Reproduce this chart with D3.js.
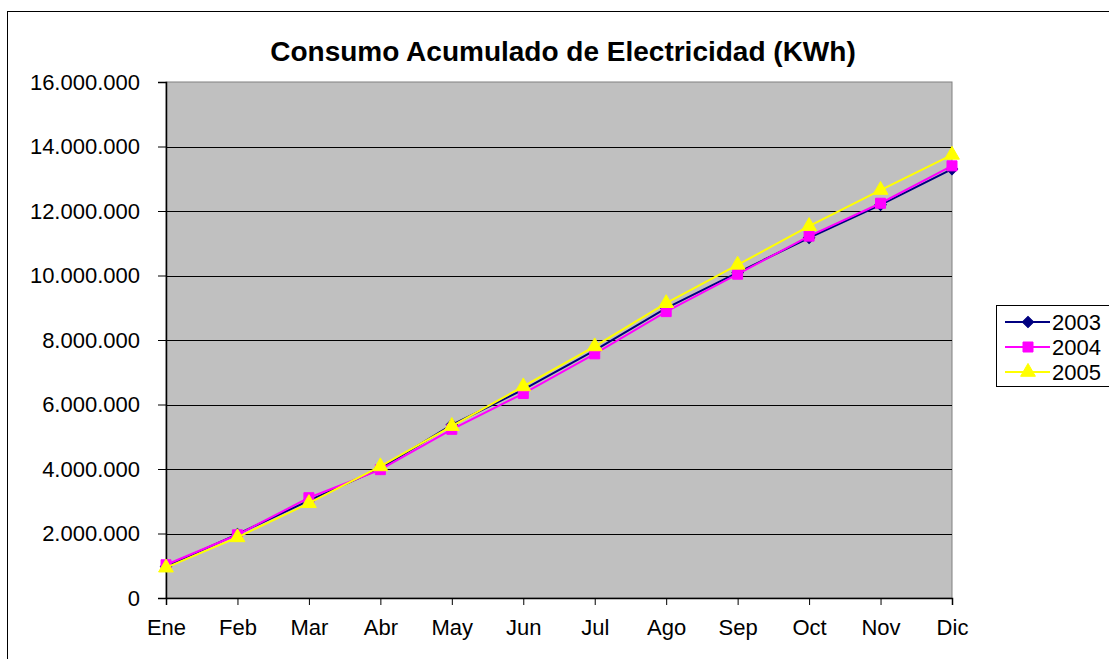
<!DOCTYPE html>
<html>
<head>
<meta charset="utf-8">
<script src="https://cdn.jsdelivr.net/npm/d3@7"></script>
<style>
    body { margin: 0; background: #ffffff; }
    text { font-family: "Liberation Sans", Arial, sans-serif; }
</style>
</head>
<body>
<div id="chart1-container"></div>
<script>
// LINE CHART - Consumo acumulado

// Data

var months = ["Ene", "Feb", "Mar", "Abr", "May", "Jun", "Jul", "Ago", "Sep", "Oct", "Nov", "Dic"];
var yTicks = [0, 2000000, 4000000, 6000000, 8000000, 10000000, 12000000, 14000000, 16000000];
var seriesNames = ["2003", "2004", "2005"];
var values2003 = [980000, 1980000, 3020000, 4020000, 5370000, 6460000, 7680000, 8990000, 10090000, 11170000, 12190000, 13300000];
var values2004 = [1030000, 1960000, 3110000, 3980000, 5230000, 6340000, 7570000, 8880000, 10040000, 11220000, 12240000, 13400000];
var values2005 = [940000, 1880000, 2940000, 4080000, 5330000, 6560000, 7800000, 9140000, 10330000, 11530000, 12650000, 13740000];

// Chart variables

var svgWidth = 1109;
var svgHeight = 659;
var margin = {top: 82, left: 166};
var width = 786;
var height = 516;

var colors = ["#000080", "#FF00FF", "#FFFF00"];
var allValues = [values2003, values2004, values2005];

var esFormat = d3.formatLocale({decimal: ",", thousands: ".", grouping: [3], currency: ["", ""]}).format(",.0f");

var svg = d3.select("#chart1-container")
            .append("svg")
            .attr("width", svgWidth)
            .attr("height", svgHeight);

// Outer chart border

svg.append("rect")
    .attr("x", 7.5)
    .attr("y", 11.5)
    .attr("width", 1200)
    .attr("height", 700)
    .attr("fill", "#ffffff")
    .attr("stroke", "#000000");

// Title

svg.append("text")
    .attr("x", 563)
    .attr("y", 61)
    .attr("text-anchor", "middle")
    .style("font-size", "28px")
    .style("font-weight", "bold")
    .text("Consumo Acumulado de Electricidad (KWh)");

var chart1 = svg.append("g")
                .attr("transform", "translate(" + margin.left + "," + margin.top + ")");

// Scales

var xScale = d3.scalePoint()
              .domain(months)
              .range([0, width]);

var yScale = d3.scaleLinear()
              .domain([0, 16000000])
              .range([height, 0]);

// Plot area

chart1.append("rect")
    .attr("width", width)
    .attr("height", height)
    .attr("fill", "#C0C0C0")
    .attr("stroke", "#808080");

// Gridlines

chart1.selectAll(".grid")
    .data(yTicks.slice(1, -1))
    .enter()
    .append("line")
    .attr("x1", 0)
    .attr("x2", width)
    .attr("y1", function(d) { return Math.round(yScale(d)) + 0.5; })
    .attr("y2", function(d) { return Math.round(yScale(d)) + 0.5; })
    .attr("stroke", "#000000");

// Axes

var xAxis = d3.axisBottom(xScale).tickSize(7).tickPadding(14);
var yAxis = d3.axisLeft(yScale).tickValues(yTicks).tickFormat(esFormat).tickSize(8).tickPadding(18);

var gx = chart1.append("g")
    .attr("transform", "translate(0," + height + ")")
    .call(xAxis);

var gy = chart1.append("g")
    .call(yAxis);

[gx, gy].forEach(function(g) {
    g.select(".domain").attr("stroke", "#000000").attr("stroke-width", 1.5);
    g.selectAll(".tick line").attr("stroke", "#000000");
    g.selectAll("text")
        .style("font-family", "'Liberation Sans', Arial, sans-serif")
        .style("font-size", "22px")
        .attr("fill", "#000000");
});

// Markers

function markerPath(i) {
    if (i === 0) return d3.symbol().type(d3.symbolSquare).size(64)();
    if (i === 1) return d3.symbol().type(d3.symbolSquare).size(100)();
    return d3.symbol().type(d3.symbolTriangle).size(95)();
}

// Lines

var line = d3.line()
    .x(function(d, i) { return xScale(months[i]); })
    .y(function(d) { return yScale(d); });

allValues.forEach(function(vals, s) {
    chart1.append("path")
        .datum(vals)
        .attr("d", line)
        .attr("fill", "none")
        .attr("stroke", colors[s])
        .attr("stroke-width", 2);

    chart1.selectAll(".m" + s)
        .data(vals)
        .enter()
        .append("path")
        .attr("d", markerPath(s))
        .attr("transform", function(d, i) {
            return "translate(" + xScale(months[i]) + "," + yScale(d) + ")" + (s === 0 ? " rotate(45)" : "");
        })
        .attr("fill", colors[s])
        .attr("stroke", colors[s]);
});

// Legend

var legend = svg.append("g")
    .attr("transform", "translate(996,305)");

legend.append("rect")
    .attr("x", 0.5)
    .attr("y", 0.5)
    .attr("width", 200)
    .attr("height", 81)
    .attr("fill", "#ffffff")
    .attr("stroke", "#000000");

seriesNames.forEach(function(name, s) {
    var ly = 17 + s * 25;
    legend.append("line")
        .attr("x1", 9)
        .attr("x2", 54)
        .attr("y1", ly)
        .attr("y2", ly)
        .attr("stroke", colors[s])
        .attr("stroke-width", 2);
    legend.append("path")
        .attr("d", markerPath(s))
        .attr("transform", "translate(32," + ly + ")" + (s === 0 ? " rotate(45)" : ""))
        .attr("fill", colors[s])
        .attr("stroke", colors[s]);
    legend.append("text")
        .attr("x", 56)
        .attr("y", ly)
        .attr("dy", "0.36em")
        .style("font-size", "22px")
        .text(name);
});
</script>
</body>
</html>
